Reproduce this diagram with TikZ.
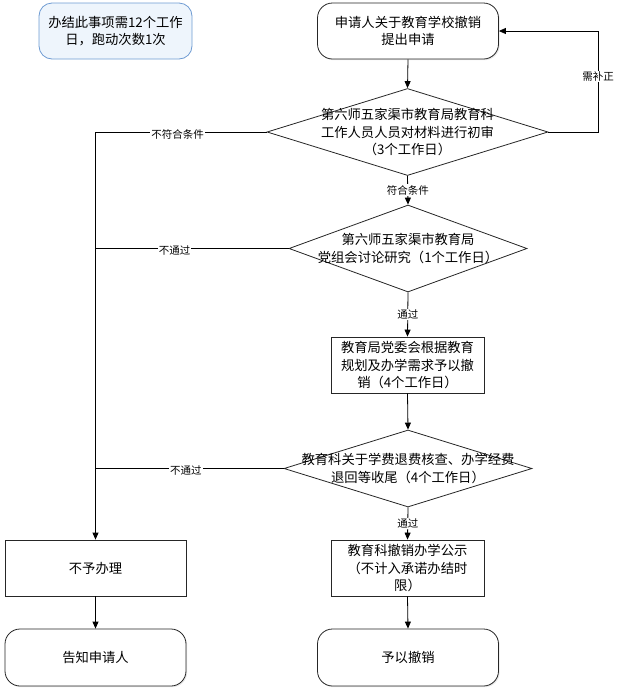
\documentclass[tikz,border=0pt]{standalone}
\usepackage{fontspec}
\setmainfont{Noto Sans CJK SC}
\usetikzlibrary{shapes.geometric,arrows.meta,shadows}
\definecolor{noteborder}{RGB}{110,155,210}
\definecolor{notefill}{RGB}{238,245,252}
\begin{document}
\begin{tikzpicture}[x=1pt,y=-1pt,
  txt/.style={align=center, font=\fontsize{13.3}{17.2}\selectfont, inner sep=0pt},
  shad/.style={drop shadow={opacity=0.18, shadow xshift=1.2pt, shadow yshift=-1.2pt}},
  proc/.style={txt, draw=black!85, line width=0.8pt, rectangle, minimum height=56pt, shad, fill=white},
  term/.style={proc, rounded corners=15pt},
  dec/.style={draw=black!85, line width=0.8pt, diamond, inner sep=0pt, fill=white},
  notebox/.style={txt, draw=noteborder, line width=0.8pt, rounded corners=13pt,
     fill=notefill, minimum width=153pt, minimum height=56pt},
  conn/.style={draw=black, line width=0.8pt, -{Triangle[length=7pt,width=6pt]}},
  line/.style={draw=black, line width=0.8pt},
  lbl/.style={fill=white, inner sep=1pt, font=\fontsize{10.5}{12}\selectfont}
]
\useasboundingbox (0,0) rectangle (617,694);

% nodes
\node[notebox] (note) at (115.5,31) {办结此事项需12个工作\\日，跑动次数1次};
\node[term, minimum width=181pt] (start) at (408,31) {申请人关于教育学校撤销\\提出申请};
\node[dec, minimum width=281pt, minimum height=87pt] (d1) at (407.5,132) {};
\node[txt] (d1t) at (d1.center) {第六师五家渠市教育局教育科\\工作人员人员对材料进行初审\\（3个工作日）};
\node[dec, minimum width=238pt, minimum height=87pt] (d2) at (408,248.5) {};
\node[txt] (d2t) at (d2.center) {第六师五家渠市教育局\\党组会讨论研究（1个工作日）};
\node[proc, minimum width=153pt] (b3) at (407.5,365) {教育局党委会根据教育\\规划及办学需求予以撤\\销（4个工作日）};
\node[dec, minimum width=248pt, minimum height=77pt] (d3) at (408,468.5) {};
\node[txt] (d3t) at (d3.center) {教育科关于学费退费核查、办学经费\\退回等收尾（4个工作日）};
\node[proc, minimum width=153pt] (b4) at (407.5,568) {教育科撤销办学公示\\（不计入承诺办结时\\限）};
\node[proc, minimum width=181pt] (no) at (95.5,568) {不予办理};
\node[term, minimum width=181pt, minimum height=57pt] (tell) at (95.5,657.5) {告知申请人};
\node[term, minimum width=181pt, minimum height=57pt] (done) at (408,657.5) {予以撤销};

\coordinate (loopx) at (598,0);

% connectors
\draw[conn] (start.south) -- (d1.north);
\draw[conn] (d1.south) -- node[lbl]{符合条件} (d2.north);
\draw[conn] (d2.south) -- node[lbl]{通过} (b3.north);
\draw[conn] (b3.south) -- (d3.north);
\draw[conn] (d3.south) -- node[lbl]{通过} (b4.north);
\draw[conn] (b4.south) -- (done.north);
\draw[conn] (no.south) -- (tell.north);
\draw[conn] (d1.east) -- (d1.east -| loopx) -- node[lbl,pos=0.55]{需补正} (start.east -| loopx) -- (start.east);
\draw[conn] (d1.west) -- node[lbl,pos=0.52,yshift=-2pt]{不符合条件} (d1.west -| no.north) -- (no.north);
\draw[line] (d2.west) -- node[lbl,pos=0.59,yshift=-2pt]{不通过} (d2.west -| no.north);
\draw[line] (d3.west) -- node[lbl,pos=0.52,yshift=-2pt]{不通过} (d3.west -| no.north);
\end{tikzpicture}
\end{document}
